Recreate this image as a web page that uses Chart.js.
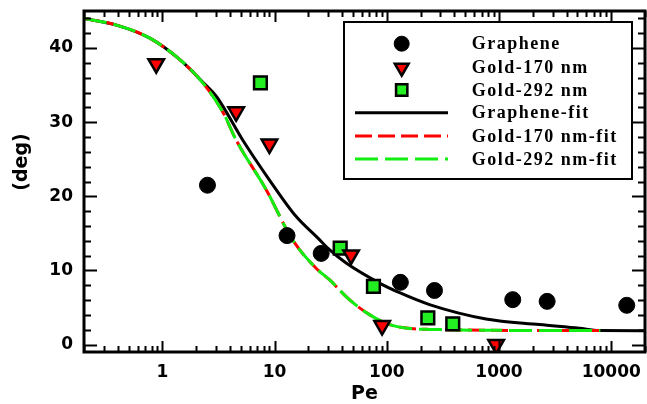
<!DOCTYPE html>
<html>
<head>
<meta charset="utf-8">
<script src="https://cdn.jsdelivr.net/npm/chart.js@4.4.1/dist/chart.umd.min.js"></script>
<style>
  html, body { margin: 0; padding: 0; background: #fff; }
  #wrap { width: 647px; height: 404px; position: relative; }
</style>
</head>
<body>
<div id="wrap"><canvas id="grafico"></canvas></div>
<script>
// medidas (Pe, angulo en grados)
const graphenePe   = [2.52, 12.9, 26, 132, 266, 1325, 2684, 13750];
const grapheneDeg  = [21.5, 14.7, 12.3, 8.4, 7.3, 6.06, 5.83, 5.3];

const gold170Pe    = [0.88, 4.54, 8.99, 48, 90.8, 942];
const gold170Deg   = [37.9, 31.4, 27.05, 12.1, 2.56, 0];

const gold292Pe    = [7.47, 38.4, 76, 232, 387];
const gold292Deg   = [35.3, 13.0, 7.85, 3.6, 2.8];

// curvas de ajuste
const grapheneFitPe  = [0.2, 0.39, 0.78, 1.44, 2.32, 3.05, 5.19, 9.0, 15.5, 24.2, 30.8, 43.4, 86, 130, 240, 766, 2290, 5200, 7800, 20000];
const grapheneFitDeg = [44.0, 43.1, 41.3, 38.4, 35.3, 33.4, 27.6, 22.2, 17.3, 14.4, 12.8, 11.0, 8.3, 7.0, 5.4, 3.46, 2.7, 2.2, 1.9, 1.88];

const gold170FitPe  = [0.2, 0.39, 0.78, 1.44, 2.32, 3.5, 4.54, 8.4, 14.5, 23.4, 30.8, 46.4, 70, 105.7, 183, 240, 766, 8000];
const gold170FitDeg = [44.0, 43.1, 41.3, 38.4, 35.2, 31.2, 27.6, 20.9, 14.1, 10.3, 8.75, 6.06, 4.04, 2.7, 2.1, 2.05, 1.93, 1.9];

const gold292FitPe  = [0.2, 0.39, 0.78, 1.44, 2.32, 3.5, 4.54, 8.4, 14.5, 23.4, 30.8, 46.4, 70, 105.7, 183, 240, 766, 8000];
const gold292FitDeg = [44.0, 43.1, 41.3, 38.4, 35.2, 31.2, 27.6, 20.9, 14.1, 10.3, 8.75, 6.06, 4.04, 2.7, 2.1, 2.05, 1.93, 1.9];

// ejes
const xTicks = [1, 10, 100, 1000, 10000];
const yTicks = [0, 10, 20, 30, 40];
const yMinor = [2, 4, 6, 8, 12, 14, 16, 18, 22, 24, 26, 28, 32, 34, 36, 38, 42, 44];

function pares(xs, ys) {
  return xs.map((x, i) => ({ x: x, y: ys[i] }));
}

// sin margen extra para las etiquetas de los extremos
function sinPadding(s) {
  s.paddingLeft = 0; s.paddingRight = 0; s.paddingTop = 0; s.paddingBottom = 0;
}

const VERDE = '#22ee22';
const VERDE_LINEA = '#11ee11';
const ROJO = '#ff0000';

const datasets = [
  {
    label: 'Graphene', data: pares(graphenePe, grapheneDeg), order: 1,
    pointStyle: 'circle', pointRadius: 8, pointBackgroundColor: '#000', pointBorderColor: '#000', pointBorderWidth: 1,
    showLine: false
  },
  {
    label: 'Gold-170 nm', data: pares(gold170Pe, gold170Deg), order: 1,
    pointStyle: 'triangle', pointRotation: 180, pointRadius: 9, pointBackgroundColor: ROJO, pointBorderColor: '#000', pointBorderWidth: 2.5,
    showLine: false
  },
  {
    label: 'Gold-292 nm', data: pares(gold292Pe, gold292Deg), order: 1,
    pointStyle: 'rect', pointRadius: 9, pointBackgroundColor: VERDE, pointBorderColor: '#000', pointBorderWidth: 2.5,
    showLine: false
  },
  {
    label: 'Graphene-fit', data: pares(grapheneFitPe, grapheneFitDeg), order: 4,
    showLine: true, borderColor: '#000', borderWidth: 3, pointRadius: 0, cubicInterpolationMode: 'monotone'
  },
  {
    label: 'Gold-170 nm-fit', data: pares(gold170FitPe, gold170FitDeg), order: 3,
    showLine: true, borderColor: ROJO, borderWidth: 3, borderDash: [17, 6], pointRadius: 0, cubicInterpolationMode: 'monotone'
  },
  {
    label: 'Gold-292 nm-fit', data: pares(gold292FitPe, gold292FitDeg), order: 2,
    showLine: true, borderColor: VERDE_LINEA, borderWidth: 3, borderDash: [23, 7], pointRadius: 0, cubicInterpolationMode: 'monotone'
  }
];

// marco con marcas hacia dentro en los cuatro lados
const marco = {
  id: 'marco',
  afterDatasetsDraw(chart) {
    const { ctx, chartArea: a, scales: { x, y } } = chart;
    ctx.save();
    ctx.strokeStyle = '#000';
    ctx.lineWidth = 2;
    ctx.beginPath();
    // x: decadas y subdivisiones
    for (let d = -1; d <= 4; d++) {
      for (let m = 1; m <= 9; m++) {
        const v = m * Math.pow(10, d);
        if (v < x.min || v > x.max) continue;
        const px = Math.round(x.getPixelForValue(v)) + 0.5;
        const len = m === 1 ? 11 : 6;
        ctx.moveTo(px, a.bottom); ctx.lineTo(px, a.bottom - len);
        ctx.moveTo(px, a.top); ctx.lineTo(px, a.top + len);
      }
    }
    // y
    yTicks.forEach(v => {
      const py = Math.round(y.getPixelForValue(v)) + 0.5;
      ctx.moveTo(a.left, py); ctx.lineTo(a.left + 13, py);
      ctx.moveTo(a.right, py); ctx.lineTo(a.right - 13, py);
    });
    yMinor.forEach(v => {
      const py = Math.round(y.getPixelForValue(v)) + 0.5;
      ctx.moveTo(a.left, py); ctx.lineTo(a.left + 7, py);
      ctx.moveTo(a.right, py); ctx.lineTo(a.right - 7, py);
    });
    ctx.stroke();
    ctx.lineWidth = 3;
    ctx.strokeRect(a.left, a.top, a.right - a.left, a.bottom - a.top);

    // titulo del eje y
    ctx.fillStyle = '#000';
    ctx.font = 'bold 19px "DejaVu Sans"';
    ctx.textAlign = 'center';
    ctx.textBaseline = 'middle';
    ctx.translate(22, 162);
    ctx.rotate(-Math.PI / 2);
    ctx.fillText('(deg)', 0, 0);
    ctx.restore();
  }
};

// leyenda dentro del grafico
const leyenda = {
  id: 'leyenda',
  afterDraw(chart) {
    const ctx = chart.ctx;
    const box = { left: 344, top: 22, right: 632, bottom: 179 };
    const filas = [43.7, 67.7, 90, 112.7, 136, 159];
    ctx.save();
    ctx.fillStyle = '#fff';
    ctx.fillRect(box.left, box.top, box.right - box.left, box.bottom - box.top);
    ctx.strokeStyle = '#000';
    ctx.lineWidth = 2;
    ctx.strokeRect(box.left, box.top, box.right - box.left, box.bottom - box.top);

    chart.data.datasets.forEach((ds, i) => {
      const yy = filas[i];
      if (ds.showLine) {
        ctx.beginPath();
        ctx.strokeStyle = ds.borderColor;
        ctx.lineWidth = 3;
        ctx.setLineDash(ds.borderDash || []);
        ctx.moveTo(355, yy);
        ctx.lineTo(448, yy);
        ctx.stroke();
        ctx.setLineDash([]);
      } else {
        ctx.fillStyle = ds.pointBackgroundColor;
        ctx.strokeStyle = ds.pointBorderColor;
        ctx.lineWidth = ds.pointBorderWidth;
        Chart.helpers.drawPoint(ctx, {
          pointStyle: ds.pointStyle,
          radius: ds.pointStyle === 'circle' ? 7.5 : 8,
          rotation: ds.pointRotation || 0,
          borderWidth: ds.pointBorderWidth
        }, 401.7, yy);
      }
      ctx.fillStyle = '#000';
      ctx.font = 'bold 18px "Liberation Serif"';
      ctx.letterSpacing = '1.5px';
      ctx.textAlign = 'left';
      ctx.textBaseline = 'middle';
      ctx.fillText(ds.label, 471.7, yy + 1);
      ctx.letterSpacing = '0px';
    });
    ctx.restore();
  }
};

new Chart(document.getElementById('grafico'), {
  type: 'scatter',
  data: { datasets: datasets },
  options: {
    responsive: true,
    maintainAspectRatio: false,
    animation: false,
    layout: { autoPadding: false, padding: { top: 11, right: 2, left: 0, bottom: 0 } },
    plugins: { legend: { display: false }, tooltip: { enabled: false } },
    scales: {
      x: {
        type: 'logarithmic',
        min: 0.2,
        max: 20000,
        afterBuildTicks: s => { s.ticks = xTicks.map(v => ({ value: v })); },
        afterFit: s => { s.height = 52; sinPadding(s); },
        grid: { display: false, drawTicks: false },
        border: { display: false },
        ticks: {
          autoSkip: false,
          maxRotation: 0,
          padding: 10,
          color: '#000',
          font: { family: 'DejaVu Sans', size: 17, weight: 'bold' },
          callback: v => String(v)
        },
        title: {
          display: true,
          text: 'Pe',
          color: '#000',
          padding: 0,
          font: { family: 'DejaVu Sans', size: 19, weight: 'bold', lineHeight: 1 }
        }
      },
      y: {
        min: -1,
        max: 45,
        afterBuildTicks: s => { s.ticks = yTicks.map(v => ({ value: v })); },
        afterFit: s => { s.width = 84; sinPadding(s); },
        grid: { display: false, drawTicks: false },
        border: { display: false },
        ticks: {
          padding: 11,
          color: '#000',
          font: { family: 'DejaVu Sans', size: 17, weight: 'bold' }
        }
      }
    }
  },
  plugins: [marco, leyenda]
});
</script>
</body>
</html>
